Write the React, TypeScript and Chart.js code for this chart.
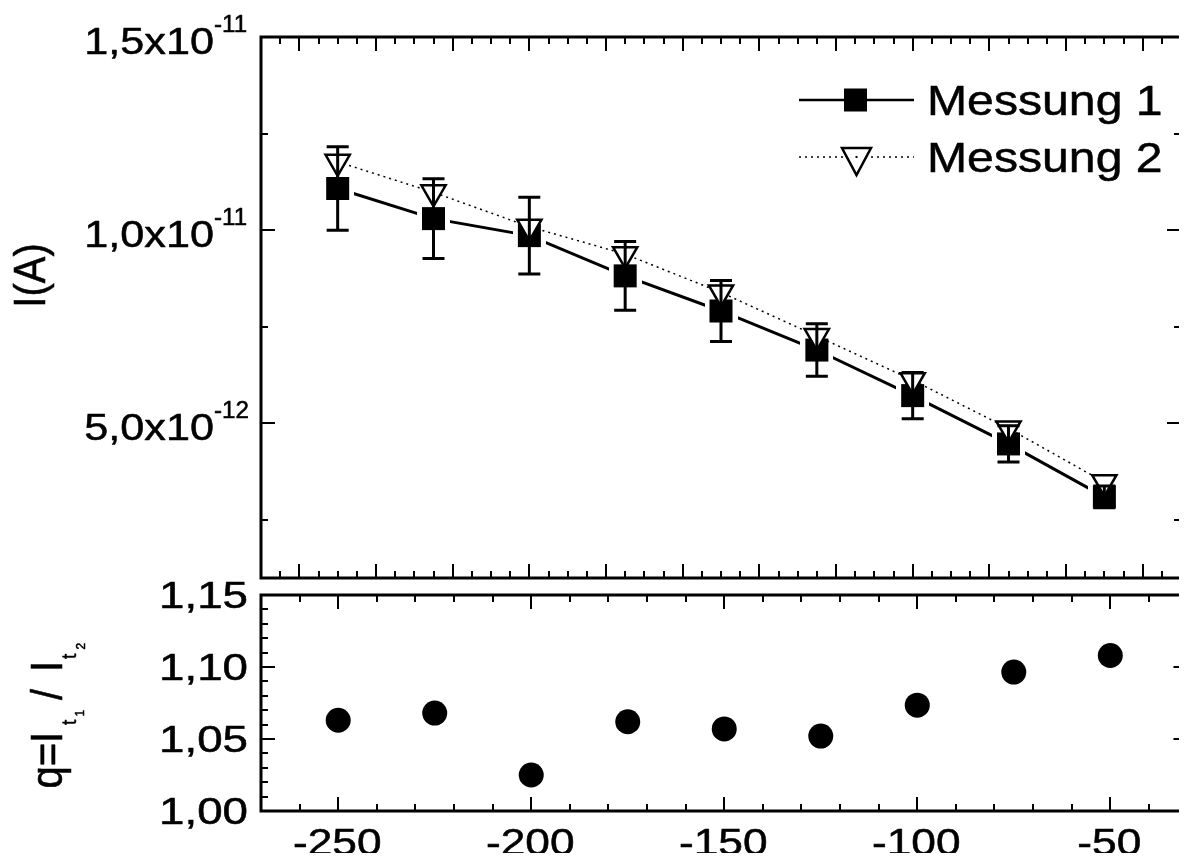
import React, { useEffect, useRef } from "react";
import { Chart, registerables } from "chart.js";

Chart.register(...registerables);

const FONT = '"Liberation Sans", Arial, Helvetica, sans-serif';
const TEXT_WEIGHT = 0.5; // slight extra stroke to mimic the heavier glyphs of the reference

// ---- data ----
const voltage = [-250, -225, -200, -175, -150, -125, -100, -75, -50];
const messung1 = [1.108e-11, 1.03e-11, 0.986e-11, 0.882e-11, 0.791e-11, 0.69e-11, 0.572e-11, 0.447e-11, 0.31e-11];
const messung1Err = [1.08e-12, 1.03e-12, 0.99e-12, 0.89e-12, 0.79e-12, 0.68e-12, 0.6e-12, 0.47e-12, 0.28e-12];
const messung2 = [1.177e-11, 1.098e-11, 1.009e-11, 0.938e-11, 0.839e-11, 0.726e-11, 0.612e-11, 0.487e-11, 0.348e-11];
const ratioQ = [1.063, 1.068, 1.025, 1.062, 1.057, 1.052, 1.0735, 1.0965, 1.108];

const seriesLabels = ["Messung 1", "Messung 2"];

// ---- axes ----
const xMin = -270;
const xMax = -30;
const currentMin = 1e-12;
const currentMax = 1.5e-11;
const ratioMin = 1.0;
const ratioMax = 1.15;

const currentTickLabels = [5e-12, 1e-11, 1.5e-11];
const currentMinorTicks = [2.5e-12, 7.5e-12, 1.25e-11];
const ratioTickLabels = [1.0, 1.05, 1.1, 1.15];
const voltageTickLabels = [-250, -200, -150, -100, -50];

function steps(a: number, b: number, s: number): number[] {
  const out: number[] = [];
  const n = Math.round((b - a) / s);
  for (let i = 0; i <= n; i++) out.push(+(a + i * s).toFixed(6));
  return out;
}
const topMajorX = steps(-260, -40, 20);
const topMinorX = steps(-270, -30, 5).filter((v) => !topMajorX.includes(v));
const bottomMajorX = voltageTickLabels;
const bottomMinorX = steps(-270, -30, 10).filter((v) => !bottomMajorX.includes(v));
const ratioMinorTicks = steps(1.0, 1.15, 0.01).filter(
  (v) => !ratioTickLabels.some((t) => Math.abs(t - v) < 1e-6)
);

// ---- drawing helpers ----
function drawText(
  ctx: CanvasRenderingContext2D,
  text: string,
  x: number,
  y: number,
  size: number,
  align: "left" | "right" | "center",
  sx: number
) {
  ctx.save();
  ctx.font = `${size}px ${FONT}`;
  ctx.fillStyle = "#000";
  ctx.strokeStyle = "#000";
  ctx.lineWidth = TEXT_WEIGHT;
  ctx.lineJoin = "round";
  ctx.textBaseline = "alphabetic";
  ctx.textAlign = "left";
  const w = ctx.measureText(text).width * sx;
  const left = align === "left" ? x : align === "right" ? x - w : x - w / 2;
  ctx.translate(left, y);
  ctx.scale(sx, 1);
  ctx.fillText(text, 0, 0);
  ctx.strokeText(text, 0, 0);
  ctx.restore();
  return w;
}

function drawRotated(
  ctx: CanvasRenderingContext2D,
  text: string,
  baselineX: number,
  startY: number,
  size: number,
  sy: number,
  align: "left" | "center" = "left"
) {
  ctx.save();
  ctx.font = `${size}px ${FONT}`;
  ctx.fillStyle = "#000";
  ctx.strokeStyle = "#000";
  ctx.lineWidth = TEXT_WEIGHT;
  ctx.lineJoin = "round";
  ctx.textBaseline = "alphabetic";
  ctx.textAlign = align;
  ctx.translate(baselineX, startY);
  ctx.rotate(-Math.PI / 2);
  ctx.scale(1, sy);
  ctx.fillText(text, 0, 0);
  ctx.strokeText(text, 0, 0);
  ctx.restore();
}

function drawFrame(
  chart: any,
  xMaj: number[],
  xMinr: number[],
  yMaj: number[],
  yMinr: number[]
) {
  const ctx: CanvasRenderingContext2D = chart.ctx;
  const { left, right, top, bottom } = chart.chartArea;
  const xs = chart.scales.x;
  const ys = chart.scales.y;
  ctx.save();
  ctx.strokeStyle = "#000";
  ctx.lineWidth = 2;
  const seg = (x1: number, y1: number, x2: number, y2: number) => {
    ctx.beginPath();
    ctx.moveTo(x1, y1);
    ctx.lineTo(x2, y2);
    ctx.stroke();
  };
  const groupsX: [number[], number][] = [
    [xMaj, 14],
    [xMinr, 7],
  ];
  for (const [vals, len] of groupsX) {
    for (const v of vals) {
      const x = Math.round(xs.getPixelForValue(v));
      seg(x, bottom, x, bottom - len);
      seg(x, top, x, top + len);
    }
  }
  const groupsY: [number[], number][] = [
    [yMaj, 14],
    [yMinr, 7],
  ];
  for (const [vals, len] of groupsY) {
    for (const v of vals) {
      const y = Math.round(ys.getPixelForValue(v));
      seg(left, y, left + len, y);
      seg(right, y, right - len, y);
    }
  }
  ctx.lineWidth = 3;
  ctx.strokeRect(left, top, right - left, bottom - top);
  ctx.restore();
}

const topDecorPlugin = {
  id: "topDecor",
  afterDatasetsDraw(chart: any) {
    // error bars of Messung 1
    const ctx: CanvasRenderingContext2D = chart.ctx;
    const xs = chart.scales.x;
    const ys = chart.scales.y;
    ctx.save();
    ctx.strokeStyle = "#000";
    ctx.lineWidth = 3;
    for (let i = 0; i < voltage.length; i++) {
      const x = xs.getPixelForValue(voltage[i]);
      const yHi = ys.getPixelForValue(messung1[i] + messung1Err[i]);
      const yLo = ys.getPixelForValue(messung1[i] - messung1Err[i]);
      ctx.beginPath();
      ctx.moveTo(x, yHi);
      ctx.lineTo(x, yLo);
      ctx.moveTo(x - 11, yHi);
      ctx.lineTo(x + 11, yHi);
      ctx.moveTo(x - 11, yLo);
      ctx.lineTo(x + 11, yLo);
      ctx.stroke();
    }
    ctx.restore();
  },
  afterDraw(chart: any) {
    const ctx: CanvasRenderingContext2D = chart.ctx;
    drawFrame(chart, topMajorX, topMinorX, currentTickLabels, currentMinorTicks);
    const ys = chart.scales.y;
    for (const v of currentTickLabels) {
      const y = ys.getPixelForValue(v);
      const exp = Math.floor(Math.log10(v) + 1e-9);
      const mant = (v / Math.pow(10, exp)).toFixed(1).replace(".", ",");
      drawText(ctx, mant + "x10", 214, y + 17, 36, "right", 1.2);
      drawText(ctx, String(exp), 214, y - 5, 23, "left", 1.05);
    }
    // y title
    drawRotated(ctx, "I(A)", 45, 275.5, 40, 1.1, "center");

    // legend
    const labels = chart.data.datasets.map((d: any) => d.label);
    ctx.save();
    ctx.strokeStyle = "#000";
    ctx.fillStyle = "#000";
    ctx.lineWidth = 2.5;
    ctx.beginPath();
    ctx.moveTo(799, 100);
    ctx.lineTo(914, 100);
    ctx.stroke();
    ctx.fillRect(844, 88.5, 23, 23);
    ctx.lineWidth = 1.5;
    ctx.setLineDash([2, 4]);
    ctx.beginPath();
    ctx.moveTo(799, 157);
    ctx.lineTo(914, 157);
    ctx.stroke();
    ctx.setLineDash([]);
    ctx.lineWidth = 2.5;
    ctx.beginPath();
    ctx.moveTo(842, 148);
    ctx.lineTo(871, 148);
    ctx.lineTo(856.5, 175);
    ctx.closePath();
    ctx.fillStyle = "#fff";
    ctx.fill();
    ctx.stroke();
    ctx.fillStyle = "#000";
    ctx.fillRect(855.5, 156, 2, 2);
    ctx.restore();
    drawText(ctx, labels[0], 927, 115, 43, "left", 1.12);
    drawText(ctx, labels[1], 927, 172, 43, "left", 1.12);
  },
};

const bottomDecorPlugin = {
  id: "bottomDecor",
  afterDraw(chart: any) {
    const ctx: CanvasRenderingContext2D = chart.ctx;
    drawFrame(chart, bottomMajorX, bottomMinorX, ratioTickLabels, ratioMinorTicks);
    const xs = chart.scales.x;
    const ys = chart.scales.y;
    for (const v of ratioTickLabels) {
      const y = ys.getPixelForValue(v);
      drawText(ctx, v.toFixed(2).replace(".", ","), 248, y + 12.5, 36, "right", 1.27);
    }
    for (const v of voltageTickLabels) {
      const x = xs.getPixelForValue(v);
      drawText(ctx, String(v), x - 1, 855, 36, "center", 1.23);
    }
    // y title: q=I_{t1} / I_{t2}
    drawRotated(ctx, "q=I", 61.7, 788.5, 40, 1.1);
    drawRotated(ctx, "t", 76, 725, 19, 1.1);
    drawRotated(ctx, "1", 84, 716.5, 12, 1.1);
    drawRotated(ctx, "/", 61.7, 700, 40, 1.1);
    drawRotated(ctx, "I", 61.7, 672, 40, 1.1);
    drawRotated(ctx, "t", 76, 659, 19, 1.1);
    drawRotated(ctx, "2", 85, 649.5, 12, 1.1);
  },
};

function makeSquareImage(): HTMLCanvasElement {
  const c = document.createElement("canvas");
  c.width = 33;
  c.height = 33;
  const g = c.getContext("2d")!;
  g.fillStyle = "#fff";
  g.fillRect(0, 0, 33, 33);
  g.fillStyle = "#000";
  g.fillRect(5, 5, 23, 23);
  return c;
}

export default function App() {
  const topRef = useRef<HTMLCanvasElement>(null);
  const bottomRef = useRef<HTMLCanvasElement>(null);

  useEffect(() => {
    if (!topRef.current || !bottomRef.current) return;
    const squareImg = makeSquareImage();

    const topChart = new Chart(topRef.current, {
      type: "line",
      data: {
        datasets: [
          {
            label: seriesLabels[0],
            data: voltage.map((v, i) => ({ x: v, y: messung1[i] })),
            borderColor: "#000",
            borderWidth: 3,
            pointStyle: squareImg as any,
            pointRadius: 16,
            order: 1,
            tension: 0,
          },
          {
            label: seriesLabels[1],
            data: voltage.map((v, i) => ({ x: v, y: messung2[i] })),
            borderColor: "#000",
            borderWidth: 1.5,
            borderDash: [2, 4],
            pointStyle: "triangle",
            rotation: 180,
            pointRadius: 14,
            pointBackgroundColor: "#fff",
            pointBorderColor: "#000",
            pointBorderWidth: 2.5,
            order: 0,
            tension: 0,
          },
        ],
      } as any,
      options: {
        responsive: false,
        animation: false,
        events: [],
        layout: { padding: { left: 261, top: 37, right: 7, bottom: 283 } },
        scales: {
          x: { type: "linear", min: xMin, max: xMax, display: false },
          y: { type: "linear", min: currentMin, max: currentMax, display: false },
        },
        plugins: { legend: { display: false }, tooltip: { enabled: false } },
      } as any,
      plugins: [topDecorPlugin],
    });

    const bottomChart = new Chart(bottomRef.current, {
      type: "scatter",
      data: {
        datasets: [
          {
            label: "q",
            data: voltage.map((v, i) => ({ x: v, y: ratioQ[i] })),
            pointStyle: "circle",
            pointRadius: 12.5,
            pointBackgroundColor: "#000",
            pointBorderWidth: 0,
            showLine: false,
          },
        ],
      } as any,
      options: {
        responsive: false,
        animation: false,
        events: [],
        layout: { padding: { left: 261, top: 595, right: 7, bottom: 50 } },
        scales: {
          x: { type: "linear", min: xMin, max: xMax, display: false },
          y: { type: "linear", min: ratioMin, max: ratioMax, display: false },
        },
        plugins: { legend: { display: false }, tooltip: { enabled: false } },
      } as any,
      plugins: [bottomDecorPlugin],
    });

    return () => {
      topChart.destroy();
      bottomChart.destroy();
    };
  }, []);

  return (
    <div
      style={{
        position: "relative",
        width: 1187,
        height: 861,
        margin: -8,
        overflow: "hidden",
        background: "#fff",
      }}
    >
      <canvas
        ref={topRef}
        width={1200}
        height={861}
        style={{ position: "absolute", left: 0, top: 0, width: 1200, height: 861 }}
      />
      <canvas
        ref={bottomRef}
        width={1200}
        height={861}
        style={{ position: "absolute", left: 0, top: 0, width: 1200, height: 861 }}
      />
    </div>
  );
}
